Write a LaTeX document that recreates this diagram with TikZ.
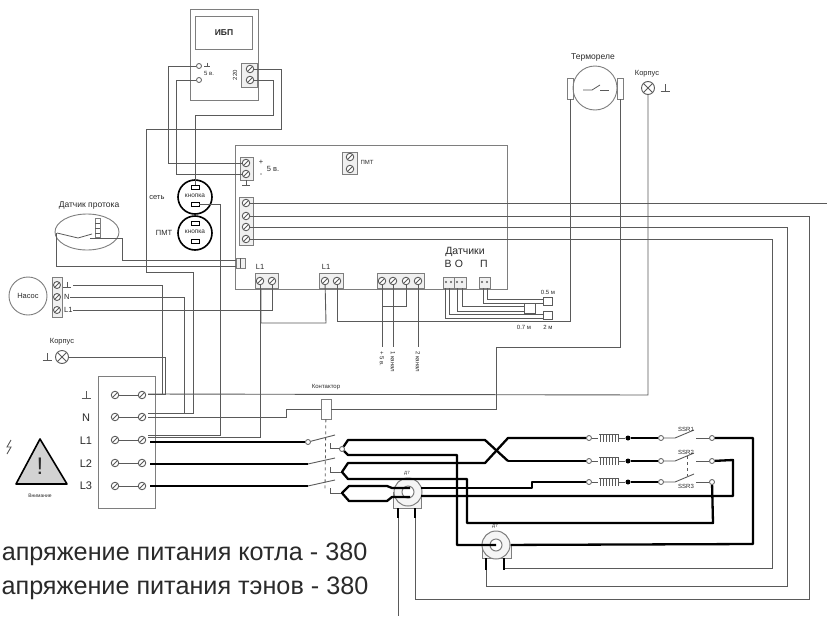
\documentclass[tikz,border=0pt]{standalone}
\usepackage{fontspec}
\setmainfont{Liberation Sans}
\usepackage{tikz}
\usetikzlibrary{calc, shapes.geometric}

\definecolor{wirecol}{HTML}{5A5A5A}
\definecolor{boxcol}{HTML}{7E7E7E}
\definecolor{inkcol}{HTML}{2A2A2A}

\tikzset{
  wire/.style={draw=wirecol, line width=0.9pt},
  power/.style={draw=black, line width=2.3pt, line join=round},
  casing/.style={draw=boxcol, line width=0.9pt},
  block/.style={draw=boxcol, line width=0.9pt, fill=gray!12!white},
  screw/.style={circle, draw=wirecol, line width=0.9pt, fill=white, minimum size=7.5pt, inner sep=0pt,
    path picture={\draw [wirecol, line width=0.8pt] (path picture bounding box.south west) -- (path picture bounding box.north east);}},
  lamp/.style={circle, draw=wirecol, line width=0.9pt, fill=white, minimum size=13pt, inner sep=0pt,
    path picture={\draw [wirecol, line width=0.8pt] (path picture bounding box.south west) -- (path picture bounding box.north east)
      (path picture bounding box.north west) -- (path picture bounding box.south east);}},
  contact/.style={circle, draw=wirecol, line width=0.8pt, fill=white, minimum size=5pt, inner sep=0pt},
  blackcontact/.style={circle, fill=black, minimum size=5pt, inner sep=0pt},
  slot/.style={rectangle, draw=black, line width=0.8pt, fill=white, minimum width=8pt, minimum height=4pt, inner sep=0pt},
  button/.style={circle, draw=black, line width=1.6pt, fill=white, minimum size=34pt, inner sep=0pt},
  sensor/.style={rectangle, draw=wirecol, line width=0.8pt, fill=white, minimum width=9pt, minimum height=8pt, inner sep=0pt},
  ring/.style={circle, draw=boxcol, line width=1pt, fill=gray!8!white, minimum size=28pt, inner sep=0pt},
  core/.style={circle, draw=boxcol, line width=1pt, fill=white, minimum size=12pt, inner sep=0pt},
  tiny label/.style={text=inkcol, inner sep=0pt, font=\fontsize{6}{7}\selectfont},
  small label/.style={text=inkcol, inner sep=0pt, font=\fontsize{7.5}{9}\selectfont},
  mid label/.style={text=inkcol, inner sep=0pt, font=\fontsize{8.5}{10}\selectfont},
  big label/.style={text=inkcol, inner sep=0pt, font=\fontsize{10.5}{12}\selectfont},
  panel label/.style={text=inkcol, inner sep=0pt, font=\fontsize{11}{13}\selectfont},
  note/.style={text=inkcol, inner sep=0pt, anchor=base east, font=\fontsize{25.2}{28}\selectfont},
  earth/.pic={
    \draw [wirecol, line width=0.8pt] (0, -4) -- (0, 3);
    \draw [wirecol, line width=0.9pt] (-4.5, 3) -- (4.5, 3);
  },
  coil/.pic={
    \draw [wirecol, line width=0.8pt] (-10, -4) -- (9, -4);
    \foreach \barx in {-9, -6, -3, 0, 3, 6, 9} {
      \draw [wirecol, line width=0.9pt] (\barx, -4) -- (\barx, 4);
    }
  },
}

\begin{document}
\begin{tikzpicture}[x=1pt, y=-1pt]
    \useasboundingbox (0, 0) rectangle (827, 616);
    \fill [white] (0, 0) rectangle (827, 616);

    \draw [casing] (190, 9) rectangle (258, 100);
    \draw [casing] (195, 16) rectangle (252, 49);
    \draw [casing] (235, 145) rectangle (507, 289);
    \draw [casing] (98, 376) rectangle (155, 508);

    \node [font=\fontsize{8.5}{10}\selectfont\bfseries, text=inkcol, inner sep=0pt] (upsname) at (224, 33) {ИБП};
    \draw [block] (241, 63) rectangle (257, 87);
    \node [screw] (upsa) at (250, 69) {};
    \node [screw] (upsb) at (250, 80) {};
    \node [tiny label, rotate=90] (upsvolt) at (235, 75) {220};
    \node [contact] (upsplus) at (199, 66) {};
    \node [contact] (upsminus) at (199, 80) {};
    \pic [scale=0.6] at (207, 65) {earth};
    \node [tiny label] (upsfive) at (209, 73) {5 в.};

    \draw [block] (240, 157) rectangle (253, 180);
    \node [screw] (fivea) at (246, 163) {};
    \node [screw] (fiveb) at (246, 174) {};
    \pic [scale=0.8] at (246, 183) {earth};
    \node [small label] (fiveplus) at (261, 162) {+};
    \node [small label] (fiveminus) at (261, 175) {-};
    \node [small label] (fivetext) at (273, 169) {5 в.};

    \draw [block] (342, 152) rectangle (357, 174);
    \node [screw] (pmta) at (350, 157) {};
    \node [screw] (pmtb) at (350, 169) {};
    \node [tiny label] (pmttext) at (367, 162) {ПМТ};

    \node [button] (netbtn) at (195, 197) {};
    \node [slot] (netin) at (195, 187) {};
    \node [slot] (netout) at (195, 204) {};
    \node [tiny label, font=\fontsize{6.5}{7}\selectfont] (nettext) at (195, 196) {кнопка};
    \node [small label] (netname) at (157, 198) {сеть};
    \node [button] (pmtbtn) at (195, 233) {};
    \node [slot] (pmtin) at (195, 223) {};
    \node [slot] (pmtout) at (195, 241) {};
    \node [tiny label, font=\fontsize{6.5}{7}\selectfont] (pmtkey) at (195, 232) {кнопка};
    \node [small label] (pmtname) at (164, 233) {ПМТ};

    \draw [block] (239, 197) rectangle (253, 245);
    \foreach \linename/\liney in {linea/203, lineb/216, linec/227, lined/239} {
      \node [screw] (\linename) at (246, \liney) {};
    }

    \draw [block] (236, 258) rectangle (245, 268);
    \draw [wirecol, line width=0.7pt] (240.5, 258) -- (240.5, 268);
    \coordinate (flowa) at (236, 260);
    \coordinate (flowb) at (236, 266);

    \draw [block] (255, 273) rectangle (278, 288);
    \node [screw] (phasea) at (260, 281) {};
    \node [screw] (phaseb) at (272, 281) {};
    \node [small label] (phasetext) at (260, 267) {L1};
    \draw [block] (319, 273) rectangle (343, 288);
    \node [screw] (phasec) at (325, 281) {};
    \node [screw] (phased) at (337, 281) {};
    \node [small label] (phasetwo) at (326, 267) {L1};

    \draw [block] (377, 273) rectangle (424, 288);
    \foreach \channame/\chanx in {chana/382, chanb/393, chanc/406, chand/418} {
      \node [screw] (\channame) at (\chanx, 281) {};
    }
    \node [tiny label, rotate=-90, anchor=west] (chanfive) at (382, 351) {+ 5 в.};
    \node [tiny label, rotate=-90, anchor=west] (chanone) at (393, 351) {1 канал};
    \node [tiny label, rotate=-90, anchor=west] (chantwo) at (418, 351) {2 канал};

    \node [big label] (probes) at (465, 252) {Датчики};
    \node [big label] (probeb) at (448, 264) {В};
    \node [big label] (probeo) at (459, 264) {О};
    \node [big label] (probep) at (484, 264) {П};
    \draw [block] (443, 277) rectangle (454, 288);
    \draw [block] (454, 277) rectangle (466, 288);
    \draw [block] (479, 277) rectangle (490, 288);
    \foreach \dotx in {446, 451, 457, 462, 482, 487} {
      \fill [wirecol] (\dotx, 282) circle [radius=1.2];
    }
    \node [sensor] (probeshort) at (547.5, 301) {};
    \node [sensor, minimum width=11pt, minimum height=10pt] (probemid) at (529.5, 308) {};
    \node [sensor] (probelong) at (547.5, 315) {};
    \node [tiny label] (shorttext) at (548, 292) {0.5 м};
    \node [tiny label] (midtext) at (524, 327) {0.7 м};
    \node [tiny label] (longtext) at (548, 327) {2 м};

    \draw [wire] (483, 288) -- (483, 303) -- ($(probeshort.west) + (0, 2)$);
    \draw [wire] (487, 288) -- (487, 299) -- ($(probeshort.west) + (0, -2)$);
    \draw [wire] (457, 288) -- (457, 311) -- ($(probemid.west) + (0, 3)$);
    \draw [wire] (462, 288) -- (462, 306) -- ($(probemid.west) + (0, -2)$);
    \draw [wire] (445, 288) -- (445, 318) -- ($(probelong.west) + (0, 3)$);
    \draw [wire] (449, 288) -- (449, 314) -- ($(probelong.west) + (0, -1)$);

    \draw [casing] (567, 78) rectangle (573, 99);
    \draw [casing] (617, 78) rectangle (623, 99);
    \node [circle, draw=boxcol, line width=0.9pt, minimum size=44pt, inner sep=0pt] (thermo) at (595, 88) {};
    \draw [wirecol, line width=0.8pt] (583, 90) -- (592, 90) -- (600, 85);
    \draw [wirecol, line width=0.8pt] (600, 90) -- (609, 90);
    \node [mid label] (thermotext) at (593, 57) {Термореле};
    \node [small label] (bodytext) at (647, 74) {Корпус};
    \node [lamp] (bodylamp) at (648, 88) {};
    \pic at (665, 88) {earth};

    \node [ellipse, draw=boxcol, line width=0.9pt, minimum width=64pt, minimum height=36pt, inner sep=0pt] (flow) at (87, 232) {};
    \draw [casing] (95, 218) rectangle (100, 237);
    \draw [wirecol, line width=0.5pt] (95, 223) -- (100, 223) (95, 228) -- (100, 228) (95, 233) -- (100, 233);
    \draw [wirecol, line width=0.8pt] (57, 233) -- (78, 238) -- (92, 234);
    \draw [wirecol, line width=0.8pt] (90, 238) -- (122, 238);
    \node [mid label] (flowtext) at (89, 205) {Датчик протока};

    \node [circle, draw=boxcol, line width=0.9pt, minimum size=38pt, inner sep=0pt] (pump) at (28, 296) {};
    \draw [block] (52, 277) rectangle (62, 317);
    \foreach \pumpname/\pumpy in {pumpa/285, pumpb/297, pumpc/310} {
      \node [screw, minimum size=7pt] (\pumpname) at (57, \pumpy) {};
    }
    \node [small label] (pumptext) at (28, 296) {Насос};
    \pic [scale=0.8] at (67, 285) {earth};
    \coordinate (pumpearth) at (73, 285);
    \node [small label, anchor=west] (pumpn) at (64, 297) {N};
    \node [small label, anchor=west] (pumpl) at (64, 310) {L1};

    \node [small label] (casetext) at (62, 342) {Корпус};
    \node [lamp] (caselamp) at (62, 357) {};
    \pic at (47, 357) {earth};

    \foreach \rowname/\rowy in {pe/395, nn/417, la/440, lb/463, lc/486} {
      \node [screw] (\rowname-left) at (115, \rowy) {};
      \node [screw] (\rowname-right) at (142, \rowy) {};
      \draw [wire] (\rowname-left) -- (\rowname-right);
    }
    \pic at (86, 395) {earth};
    \node [panel label] (panelnn) at (86, 418) {N};
    \node [panel label] (panella) at (86, 441) {L1};
    \node [panel label] (panellb) at (86, 464) {L2};
    \node [panel label] (panellc) at (86, 486) {L3};

    \draw [line width=1.6pt, line join=round, fill=gray!35!white] (40, 439) -- (67, 484) -- (16, 484) -- cycle;
    \node [font=\fontsize{24}{28}\selectfont, text=inkcol, inner sep=0pt] (warnmark) at (40, 466) {!};
    \node [tiny label, font=\fontsize{5}{6}\selectfont] (warntext) at (40, 496) {Внимание};
    \draw [wirecol, line width=0.9pt] (11, 440) -- (7, 447) -- (11, 447) -- (7, 454);

    \node [rectangle, draw=boxcol, line width=0.9pt, fill=white, minimum width=10pt, minimum height=20pt, inner sep=0pt] (contactor) at (326, 409) {};
    \node [tiny label] (contactortext) at (326, 387) {Контактор};

    \coordinate (pebus) at (148, 394);
    \coordinate (nbus) at (148, 413);
    \coordinate (nlow) at (148, 417);
    \coordinate (labus) at (148, 435);
    \coordinate (lahigh) at (148, 437);
    \coordinate (rightedge) at (827, 203);
    \coordinate (bottomedge) at (398, 616);

    \draw [wire] (upsa) -- (281, 69) -- (281, 129) -- (146, 129) -- (146, 272) -- (193, 272) -- (193, 413) -- (nbus);
    \draw [wire] (upsb) -- (273, 80) -- (273, 115) -- (195, 115) -- (netin);
    \draw [wire] (upsplus) -- (168, 66) -- (168, 163) -- (fivea);
    \draw [wire] (upsminus) -- (176, 80) -- (176, 174) -- (fiveb);
    \draw [wire] (netout) -- (220, 204) -- (220, 435) -- (labus);
    \draw [wire] (phasea) -- (260, 437) -- (lahigh);
    \draw [wire] (phaseb) -- (272, 310) -- (pumpl);
    \draw [wire] (pumpearth) -- (162, 285) -- (162, 394) -- (pebus);
    \draw [wire] (pumpn) -- (184, 297) -- (184, 413) -- (nbus);
    \draw [wire] (caselamp) -- (165, 357) -- (165, 394) -- (pebus);
    \draw [wire] (flowa) -- (122, 260) -- (122, 238);
    \draw [wire] (flowb) -- (56, 266) -- (56, 233);
    \draw [wire] (261, 289) -- (261, 323) -- (326, 323) -- (phasec);
    \draw [wire] (phased) -- (337, 321) -- (570, 321) -- (570, 99);
    \draw [wire] (620, 99) -- (620, 347) -- (496, 347) -- (496, 409) -- (contactor);
    \draw [wire] (contactor) -- (286, 409) -- (286, 417) -- (nlow);
    \draw [wire] (bodylamp) -- (648, 395) -- (pebus);
    \draw [wire] (chana) -- (382, 347);
    \draw [wire] (chanb) -- (393, 347);
    \draw [wire] (chand) -- (418, 347);
    \draw [wire] (382, 306) -- (406, 306) -- (chanc);
    \draw [wire] (linea) -- (rightedge);
    \draw [wire] (lineb) -- (809, 216) -- (809, 599) -- (415, 599) -- (415, 518);
    \draw [wire] (linec) -- (787, 227) -- (787, 586) -- (486, 586) -- (486, 570);
    \draw [wire] (lined) -- (772, 239) -- (772, 568) -- (504, 568);
    \draw [wire] (398, 518) -- (bottomedge);
    \draw [wirecol, line width=0.8pt, dashed] (contactor) -- (325, 490);

    \draw [power] (la-right) ++(8, 2) -- (305, 442);
    \draw [power] (lb-right) ++(8, 1) -- (308, 464);
    \draw [power] (lc-right) ++(8, 0) -- (308, 486);
    \node [contact] (swina) at (308, 442) {};
    \draw [wire] (swina) -- (335, 435);
    \draw [wire] (308, 464) -- (335, 458);
    \draw [wire] (308, 486) -- (335, 480);
    \draw [wire] (330, 443) -- (330, 448) -- (340, 448);
    \draw [wire] (330, 467) -- (330, 472) -- (342, 472);
    \draw [wire] (330, 488) -- (330, 493) -- (342, 493);
    \node [contact] (forka) at (342, 449) {};

    \foreach \rowname/\rowy in {top/438, mid/461, low/482} {
      \node [contact] (coil\rowname) at (589, \rowy) {};
      \node [blackcontact] (drop\rowname) at (628, \rowy) {};
      \node [contact] (ssrin\rowname) at (661, \rowy) {};
      \node [contact] (ssrout\rowname) at (712, \rowy) {};
      \pic at (609, \rowy) {coil};
      \draw [wire] (coil\rowname) -- (598, \rowy);
      \draw [wire] (619, \rowy) -- (drop\rowname);
      \draw [power] (drop\rowname) -- (ssrin\rowname);
      \draw [wire] (ssrin\rowname) -- (675, \rowy) -- (694, \rowy - 8);
      \draw [wire] (696, \rowy) -- (ssrout\rowname);
    }
    \draw [wirecol, line width=0.8pt, dashed] (687, 456) -- (687, 476);
    \node [tiny label] (ssrone) at (686, 429) {SSR1};
    \node [tiny label] (ssrtwo) at (686, 452) {SSR2};
    \node [tiny label] (ssrthree) at (686, 486) {SSR3};

    \draw [casing, fill=gray!8!white] (393, 492) -- (393, 508) -- (421, 508) -- (421, 492);
    \node [ring] (tra) at (408, 492) {};
    \node [core] (traeye) at (408, 492) {};
    \node [tiny label, font=\fontsize{4.5}{5}\selectfont] (tratext) at (407, 473) {Д7};
    \draw [casing, fill=gray!8!white] (482, 545) -- (482, 558) -- (511, 558) -- (511, 545);
    \node [ring] (trb) at (496, 545) {};
    \node [core] (trbeye) at (496, 545) {};
    \node [tiny label, font=\fontsize{4.5}{5}\selectfont] (trbtext) at (495, 526) {Д7};
    \draw [draw=black, line width=2.4pt] (398, 508) -- (398, 518);
    \draw [draw=black, line width=2.4pt] (415, 508) -- (415, 518);
    \draw [draw=black, line width=2.4pt] (486, 558) -- (486, 570);
    \draw [draw=black, line width=2.4pt] (504, 558) -- (504, 570);

    \draw [power] (508, 461) -- (485, 440) -- (348, 440) -- (forka) -- (348, 455) -- (457, 455) -- (457, 545) -- (trbeye.center);
    \draw [power] (coiltop) -- (508, 438) -- (485, 463) -- (348, 463) -- (342, 472) -- (348, 479) -- (467, 479) -- (467, 523) -- (713, 523) -- (ssroutlow);
    \draw [power] (coilmid) -- (508, 461);
    \draw [power] (tra.center) ++(2, -4) -- (392, 488) -- (387, 486) -- (349, 486) -- (342, 493) -- (349, 501) -- (387, 501) -- (392, 497) -- (410, 497);
    \draw [power] (421, 488) -- (532, 488) -- (532, 482) -- (coillow);
    \draw [power] (421, 496) -- (733, 496) -- (733, 460) -- (ssroutmid);
    \draw [power] (ssrouttop) -- (753, 438) -- (753, 544) -- (trb);

    \node [note] (notea) at (367.5, 560) {апряжение питания котла - 380};
    \node [note] (noteb) at (368.5, 594) {апряжение питания тэнов - 380};
  \end{tikzpicture}
\end{document}
